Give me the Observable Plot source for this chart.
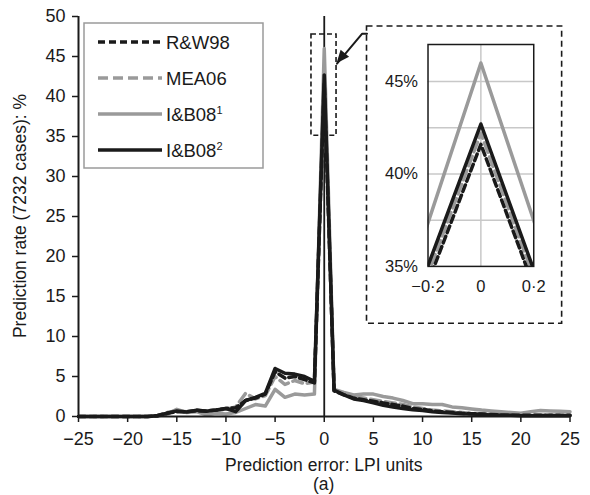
<!DOCTYPE html>
<html><head><meta charset="utf-8">
<script src="https://cdn.jsdelivr.net/npm/d3@7"></script>
<script src="https://cdn.jsdelivr.net/npm/@observablehq/plot@0.6"></script>
<style>
body{margin:0;background:#fff;}
#chart{position:relative;width:590px;height:495px;}
</style>
</head><body><div id="chart"></div>
<script>
// ---------- data ----------
const errorUnits = [-25,-24,-23,-22,-21,-20,-19,-18,-17,-16,-15,-14,-13,-12,-11,-10,-9,-8,-7,-6,-5,-4,-3,-2,-1,0,1,2,3,4,5,6,7,8,9,10,11,12,13,14,15,16,17,18,19,20,21,22,23,24,25];
const rw98  = [0,0,0,0,0,0,0,0,0.1,0.4,0.6,0.6,0.7,0.7,0.8,1.0,1.1,2.0,2.3,2.8,5.6,4.8,5.0,4.6,4.2,41.6,3.2,2.7,2.3,2.1,1.9,1.7,1.5,1.3,1.0,0.9,0.7,0.6,0.5,0.4,0.35,0.3,0.25,0.2,0.15,0.15,0.15,0.15,0.15,0.15,0.15];
const mea06 = [0,0,0,0,0,0,0,0,0.1,0.5,0.7,0.6,0.8,0.6,0.7,0.9,1.2,2.9,2.2,2.6,5.0,4.0,4.5,4.1,4.3,42.2,3.3,2.8,2.4,2.3,2.1,1.9,1.7,1.5,1.2,1.0,0.8,0.7,0.6,0.5,0.4,0.35,0.3,0.25,0.2,0.2,0.2,0.2,0.2,0.2,0.2];
const ib08a = [0,0,0,0,0,0,0,0,0.05,0.3,0.9,0.5,0.6,0.2,0.4,0.3,0.5,1.0,1.5,1.3,3.4,2.4,2.8,2.7,2.8,46.0,3.4,3.0,2.7,2.8,2.8,2.5,2.3,2.0,1.6,1.6,1.5,1.5,1.2,1.1,0.95,0.8,0.7,0.6,0.5,0.4,0.6,0.75,0.7,0.65,0.6];
const ib08b = [0,0,0,0,0,0,0,0,0.1,0.4,0.7,0.55,0.8,0.65,0.8,1.0,0.6,2.0,2.4,2.9,6.0,5.4,5.3,5.0,4.4,42.7,3.3,2.7,2.2,2.0,1.7,1.4,1.2,1.0,0.85,0.75,0.6,0.5,0.45,0.35,0.3,0.25,0.2,0.15,0.15,0.1,0.1,0.1,0.1,0.1,0.1];
const seriesNames = ["R&W98","MEA06","I&B08¹","I&B08²"];
const xTicks = [-25,-20,-15,-10,-5,0,5,10,15,20,25];
const yTicks = [0,5,10,15,20,25,30,35,40,45,50];
const insetXTicks = [-0.2,0,0.2];
const insetYTicks = [35,40,45];
const insetGrid = [37.5,40,42.5,45];
const insetXDomain = [-0.2,0.2];
const insetYDomain = [35,47];
// annotation regions (data units of main chart)
const zoomX = [-1.3,1.25];
const zoomY = [35.1,47.75];
const insetBoxX = [4.35,24.2];
const insetBoxY = [11.6,48.75];
const arrowX = [4.35,3.84,1.3];
const arrowY = [47.84,47.84,44.1];

// ---------- styles ----------
const FONT = "'Liberation Sans', Arial, Helvetica, sans-serif";
const INK = "#1a1a1a", GREY = "#9a9a9a";
const styles = {
  "R&W98":  {stroke: INK,  dash: "7,4"},
  "MEA06":  {stroke: GREY, dash: "10,5"},
  "I&B08¹": {stroke: GREY, dash: null},
  "I&B08²": {stroke: INK,  dash: null}
};
const drawOrder = ["I&B08¹","MEA06","R&W98","I&B08²"];
const valuesBy = {"R&W98": rw98, "MEA06": mea06, "I&B08¹": ib08a, "I&B08²": ib08b};
const rows = s => errorUnits.map((x,i) => ({series: s, x, y: valuesBy[s][i]}));

function seriesMarks(w, clip) {
  return drawOrder.map(s => Plot.line(rows(s), {
    x: "x", y: "y", stroke: styles[s].stroke, strokeWidth: w,
    strokeDasharray: styles[s].dash || undefined, strokeLinejoin: "round", clip
  }));
}

// ---------- main chart ----------
const main = Plot.plot({
  width: 590, height: 495,
  marginLeft: 78, marginRight: 20.5, marginTop: 16, marginBottom: 79,
  style: {fontFamily: FONT, fontSize: "18px", color: INK, background: "#fff", overflow: "visible"},
  x: {domain: [-25,25]},
  y: {domain: [0,50]},
  marks: [
    Plot.rect([{x1: zoomX[0], x2: zoomX[1], y1: zoomY[0], y2: zoomY[1]}],
      {x1: "x1", x2: "x2", y1: "y1", y2: "y2", fill: "none", stroke: INK, strokeWidth: 1.6, strokeDasharray: "5,3"}),
    Plot.rect([{x1: insetBoxX[0], x2: insetBoxX[1], y1: insetBoxY[0], y2: insetBoxY[1]}],
      {x1: "x1", x2: "x2", y1: "y1", y2: "y2", fill: "none", stroke: INK, strokeWidth: 1.6, strokeDasharray: "6,4"}),
    Plot.line(arrowX.map((x,i) => ({x, y: arrowY[i]})), {x: "x", y: "y", stroke: INK, strokeWidth: 2}),
    Plot.ruleX([0], {y1: 0, y2: 50, stroke: INK, strokeWidth: 1.8}),
    ...seriesMarks(3.5, false),
    Plot.axisX({ticks: xTicks, tickSize: 6, tickPadding: 10, label: null, strokeWidth: 1.5, fontSize: 18}),
    Plot.axisY({ticks: yTicks, tickSize: 6, tickPadding: 7, label: null, strokeWidth: 1.5, fontSize: 18}),
    Plot.ruleY([0], {stroke: INK, strokeWidth: 2}),
    Plot.ruleX([-25], {stroke: INK, strokeWidth: 2})
  ]
});
document.getElementById("chart").appendChild(main);
const sx = main.scale("x"), sy = main.scale("y");
const svg = d3.select(main);

// arrow head (filled)
{
  const x1 = sx.apply(arrowX[1]), y1 = sy.apply(arrowY[1]);
  const x2 = sx.apply(arrowX[2]), y2 = sy.apply(arrowY[2]);
  const a = Math.atan2(y2 - y1, x2 - x1), L = 13, W = 5.5;
  const bx = x2 - L*Math.cos(a), by = y2 - L*Math.sin(a);
  const px = -Math.sin(a)*W, py = Math.cos(a)*W;
  svg.append("path").attr("d", `M${x2},${y2}L${bx+px},${by+py}L${bx-px},${by-py}Z`).attr("fill", INK);
}

// axis titles
svg.append("text").attr("x", (sx.apply(-25)+sx.apply(25))/2).attr("y", 471)
  .attr("text-anchor","middle").attr("font-family",FONT).attr("font-size",17.5).attr("fill",INK)
  .text("Prediction error: LPI units");
svg.append("text").attr("x", (sx.apply(-25)+sx.apply(25))/2).attr("y", 490)
  .attr("text-anchor","middle").attr("font-family",FONT).attr("font-size",17.5).attr("fill",INK)
  .text("(a)");
svg.append("text").attr("transform", `translate(26,${(sy.apply(0)+sy.apply(50))/2}) rotate(-90)`)
  .attr("text-anchor","middle").attr("font-family",FONT).attr("font-size",17.5).attr("fill",INK)
  .text("Prediction rate (7232 cases): %");

// legend
{
  const g = svg.append("g").attr("text-anchor","start");
  g.append("rect").attr("x",84).attr("y",23).attr("width",179).attr("height",145)
    .attr("fill","#fff").attr("stroke",GREY).attr("stroke-width",1.5);
  seriesNames.forEach((s,i) => {
    const y = 42 + i*36;
    g.append("line").attr("x1",98).attr("x2",162).attr("y1",y).attr("y2",y)
      .attr("stroke",styles[s].stroke).attr("stroke-width",3.5)
      .attr("stroke-dasharray",styles[s].dash || null);
    const t = g.append("text").attr("x",166).attr("y",y+6.5).attr("font-family",FONT)
      .attr("text-anchor","start").attr("font-size",18.5).attr("fill",INK);
    const sup = s.match(/[¹²]$/);
    if (sup) {
      t.append("tspan").text(s.slice(0,-1));
      t.append("tspan").attr("dy",-7).attr("font-size",11).text(sup[0] === "¹" ? "1" : "2");
    } else t.text(s);
  });
}

// inset
{
  const bx0 = sx.apply(insetBoxX[0]), bx1 = sx.apply(insetBoxX[1]);
  const by0 = sy.apply(insetBoxY[1]), by1 = sy.apply(insetBoxY[0]);
  const w = bx1 - bx0, h = by1 - by0;
  const fmt = d => d === 0 ? "0" : (d < 0 ? "−" : "") + Math.abs(d).toFixed(1).replace(".", "·");
  const inset = Plot.plot({
    width: w, height: h,
    marginLeft: 61, marginRight: 28.4, marginTop: 18, marginBottom: 57.3,
    style: {fontFamily: FONT, fontSize: "16.5px", color: INK, background: "none", overflow: "visible",
            width: w + "px", height: h + "px", maxWidth: "none"},
    x: {domain: insetXDomain},
    y: {domain: insetYDomain},
    marks: [
      Plot.ruleY(insetGrid, {stroke: "#c8c8c8", strokeWidth: 1.5}),
      Plot.ruleX([0], {stroke: "#c8c8c8", strokeWidth: 1.5}),
      ...seriesMarks(3.5, true),
      Plot.frame({stroke: INK, strokeWidth: 1.5}),
      Plot.axisX({ticks: insetXTicks, tickSize: 0, tickPadding: 14, tickFormat: fmt, label: null, fontSize: 16.5}),
      Plot.axisY({ticks: insetYTicks, tickSize: 0, tickPadding: 10, tickFormat: d => d + "%", label: null, fontSize: 16.5})
    ]
  });
  inset.setAttribute("x", bx0);
  inset.setAttribute("y", by0);
  inset.setAttribute("width", w);
  inset.setAttribute("height", h);
  main.appendChild(inset);
}
</script>
</body></html>
